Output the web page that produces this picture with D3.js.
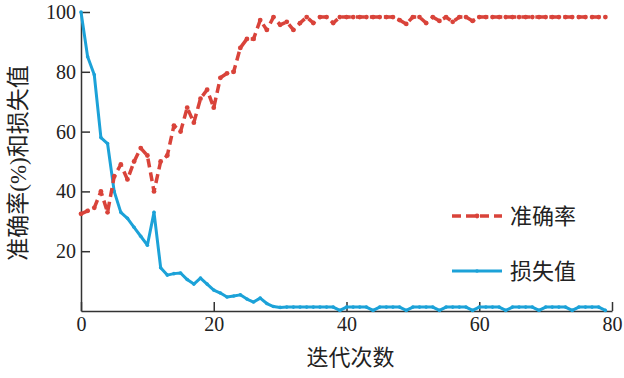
<!DOCTYPE html>
<html>
<head>
<meta charset="utf-8">
<script src="https://cdn.jsdelivr.net/npm/d3@7"></script>
<style>
  html, body { margin: 0; padding: 0; background: #fff; }
</style>
</head>
<body>
<svg id="chart" width="624" height="378"></svg>
<script>
// Accuracy (%) and loss per iteration.
const accuracy = [
  32.5, 33.5, 34.5, 40, 33, 45, 49, 44, 50, 54.5,
  52, 40, 50, 52, 62, 60, 68, 63, 71, 74,
  68, 78, 79.5, 80, 88, 91, 91, 97.3, 94, 98.3,
  95.7, 96.7, 94, 96.3, 98.3, 96.3, 98.3, 98.3, 96.3, 98.3,
  98.3, 98.3, 98.3, 98.3, 98.3, 98.3, 98.3, 98.3, 97.3, 96,
  98.3, 98.3, 96.3, 98.3, 97, 98.3, 96.7, 98.3, 98.3, 97,
  98.3, 98.3, 98.3, 98.3, 98.3, 98.3, 98.3, 98.3, 98.3, 98.3,
  98.3, 98.3, 98.3, 98.3, 98.3, 98.3, 98.3, 98.3, 98.3, 98.3
];
const loss = [
  100, 85, 79, 58, 56, 40, 33, 31, 28, 25,
  22, 33, 14.5, 12, 12.5, 12.7, 10.5, 9, 11, 9,
  7, 6, 4.7, 5, 5.4, 4, 3, 4.3, 2.5, 1.5,
  1.2, 1.3, 1.3, 1.3, 1.3, 1.3, 1.3, 1.3, 1.3, 0.2,
  1.3, 1.3, 1.3, 1.3, 0.2, 1.3, 1.3, 1.3, 1.3, 0.2,
  1.3, 1.3, 1.3, 1.3, 0.2, 1.3, 1.3, 1.3, 1.3, 0.2,
  1.3, 1.3, 1.3, 1.3, 0.2, 1.3, 1.3, 1.3, 1.3, 0.2,
  1.3, 1.3, 1.3, 1.3, 0.2, 1.3, 1.3, 1.3, 1.3, 0.2
];
const xTicks = [0, 20, 40, 60, 80];
const yTicks = [20, 40, 60, 80, 100];
const seriesNames = ["准确率", "损失值"];

function drawChart() {
  const svg = d3.select("#chart");
  const margin = { top: 12, right: 12, bottom: 67, left: 81 };
  const innerWidth = 624 - margin.left - margin.right;
  const innerHeight = 378 - margin.top - margin.bottom;
  const red = "#d9433a";
  const blue = "#1ca2d8";
  const serif = "'Times New Roman', 'Liberation Serif', 'DejaVu Serif', serif";
  const cjk = "'Times New Roman', 'Liberation Serif', 'Noto Sans CJK SC', sans-serif";

  const g = svg.append("g")
    .attr("transform", `translate(${margin.left},${margin.top})`);

  const x = d3.scaleLinear().domain([0, 80]).range([0, innerWidth]);
  const y = d3.scaleLinear().domain([0, 100]).range([innerHeight, 0]);

  // axes: ticks point inward, no top/right frame
  g.append("g")
    .attr("transform", `translate(0,${innerHeight})`)
    .call(d3.axisBottom(x).tickValues(xTicks).tickSizeInner(-9).tickSizeOuter(0).tickPadding(6))
    .call(axis => {
      axis.attr("font-family", serif).attr("font-size", 20);
      axis.selectAll("text").attr("fill", "#222");
      axis.selectAll(".domain, .tick line").attr("stroke", "#333").attr("stroke-width", 1.5);
    });

  g.append("g")
    .call(d3.axisLeft(y).tickValues(yTicks).tickSizeInner(-9).tickSizeOuter(0).tickPadding(5))
    .call(axis => {
      axis.attr("font-family", serif).attr("font-size", 20);
      axis.selectAll("text").attr("fill", "#222");
      axis.selectAll(".domain, .tick line").attr("stroke", "#333").attr("stroke-width", 1.5);
    });

  const line = d3.line()
    .x((d, i) => x(i))
    .y(d => y(d));

  // loss: solid blue with small dots
  g.append("path")
    .datum(loss)
    .attr("d", line)
    .attr("fill", "none")
    .attr("stroke", blue)
    .attr("stroke-width", 3)
    .attr("stroke-linejoin", "round");

  g.selectAll(".loss-dot")
    .data(loss)
    .join("circle")
    .attr("class", "loss-dot")
    .attr("cx", (d, i) => x(i))
    .attr("cy", d => y(d))
    .attr("r", 1.8)
    .attr("fill", blue);

  // accuracy: red dashed with dots
  g.append("path")
    .datum(accuracy)
    .attr("d", line)
    .attr("fill", "none")
    .attr("stroke", red)
    .attr("stroke-width", 3.5)
    .attr("stroke-dasharray", "9 5")
    .attr("stroke-linejoin", "round");

  g.selectAll(".acc-dot")
    .data(accuracy)
    .join("circle")
    .attr("class", "acc-dot")
    .attr("cx", (d, i) => x(i))
    .attr("cy", d => y(d))
    .attr("r", 2.4)
    .attr("fill", red);

  // axis titles
  svg.append("text")
    .attr("font-family", cjk)
    .attr("x", margin.left + innerWidth / 2 + 4)
    .attr("y", 365)
    .attr("text-anchor", "middle")
    .attr("fill", "#222")
    .attr("font-size", 22)
    .text("迭代次数");

  svg.append("text")
    .attr("font-family", cjk)
    .attr("transform", "rotate(-90)")
    .attr("x", -163)
    .attr("y", 26)
    .attr("text-anchor", "middle")
    .attr("fill", "#222")
    .attr("font-size", 23)
    .text("准确率(%)和损失值");

  // legend
  const legend = svg.append("g").attr("transform", "translate(452, 216)");
  const styles = [
    { color: red, width: 3.5, dash: "9 5", r: 2.4 },
    { color: blue, width: 3, dash: null, r: 1.8 }
  ];
  seriesNames.forEach((name, i) => {
    const row = legend.append("g").attr("transform", `translate(0, ${i * 55})`);
    row.append("line")
      .attr("x1", 0).attr("x2", 50)
      .attr("y1", 0).attr("y2", 0)
      .attr("stroke", styles[i].color)
      .attr("stroke-width", styles[i].width)
      .attr("stroke-dasharray", styles[i].dash);
    row.append("circle")
      .attr("cx", 25).attr("cy", 0)
      .attr("r", styles[i].r)
      .attr("fill", styles[i].color);
    row.append("text")
      .attr("font-family", cjk)
      .attr("x", 58)
      .attr("y", 8)
      .attr("fill", "#222")
      .attr("font-size", 22)
      .text(name);
  });
}

drawChart();
</script>
</body>
</html>
